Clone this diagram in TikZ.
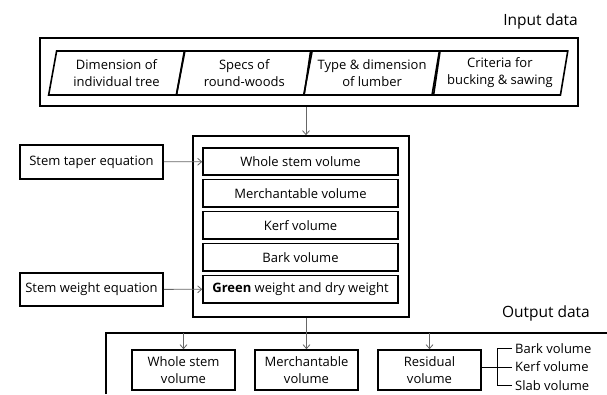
\documentclass[tikz,border=0pt]{standalone}
\usepackage{fontspec}
\setmainfont{Open Sans}
\usepackage{tikz}
\usetikzlibrary{positioning,arrows.meta,shapes.geometric,calc}

\begin{document}
\begin{tikzpicture}[x=1pt,y=-1pt,font=\fontsize{13}{17}\selectfont,
        box/.style={draw,line width=1.6pt,inner sep=0pt,align=center},
        inbox/.style={box,minimum width=195pt,minimum height=27.5pt},
        datum/.style={draw,line width=1.6pt,trapezium,trapezium left angle=78,trapezium right angle=102,
            trapezium stretches=true,minimum width=136pt,minimum height=44pt,inner sep=0pt,align=center},
        arr/.style={draw=black!60,line width=0.8pt,-{Straight Barb[length=4pt,width=7pt]}},
        title/.style={anchor=east,inner sep=0pt,font=\fontsize{15.5}{17}\selectfont}]
        \useasboundingbox (0,0) rectangle (607,394);
        % input data
        \node[title] (inlab) at (578,21) {Input data};
        \node[box,minimum width=538pt,minimum height=68pt] (input) at (309,72) {};
        \foreach \txt [count=\i from 0] in {{Dimension of\\individual tree},{Specs of\\round-woods},
            {Type \& dimension\\of lumber},{Criteria for\\bucking \& sawing}}
            \node[datum] (in\i) at (116.5+127.8*\i,73) {\txt};
        % volume calculation
        \node[box,minimum width=216pt,minimum height=181pt] (mid) at (301,226.5) {};
        \foreach \txt [count=\i from 0] in {Whole stem volume,Merchantable volume,Kerf volume,
            Bark volume,{\textbf{Green} weight and dry weight}}
            \node[inbox] (vol\i) at (300.5,161.5+31.9*\i) {\txt};
        \node[box,minimum width=143pt,minimum height=34pt] (taper) at (91.5,162) {Stem taper equation};
        \node[box,minimum width=143pt,minimum height=33pt] (weight) at (91.5,289.5) {Stem weight equation};
        \draw[arr] (taper) -- (vol0);
        \draw[arr] (weight) -- (vol4);
        \coordinate (flow) at (306,0);
        \draw[arr] (input.south -| flow) -- (mid.north -| flow);
        % output data
        \node[title] (outlab) at (590,313) {Output data};
        \coordinate (otl) at (106,333);
        \coordinate (obl) at (106,394);
        \coordinate (otr) at (607,333);
        \draw[line width=1.6pt] (obl) -- (otl) -- (otr);
        \foreach \txt/\nm [count=\i from 0] in {{Whole stem\\volume}/whole,{Merchantable\\volume}/merch,
            {Residual\\volume}/resid}
            \node[box,minimum width=103pt,minimum height=40pt] (\nm) at (183.5+123*\i,370) {\txt};
        \draw[arr] (mid.south -| merch) -- (merch.north);
        \draw[arr] (otl -| whole) -- (whole.north);
        \draw[arr] (otl -| resid) -- (resid.north);
        % residual parts
        \coordinate (fork) at (497,368);
        \foreach \txt [count=\i from 0] in {Bark volume,Kerf volume,Slab volume}
            \node[anchor=west,inner sep=0pt] (res\i) at (515,348.5+18.5*\i) {\txt};
        \draw[line width=0.8pt] (resid.east |- res1.west) -- ([xshift=-3pt]res1.west);
        \draw[line width=0.8pt] ([xshift=-3pt]res0.west) -- (res0.west -| fork) -- (res2.west -| fork)
            -- ([xshift=-3pt]res2.west);
    \end{tikzpicture}
\end{document}
